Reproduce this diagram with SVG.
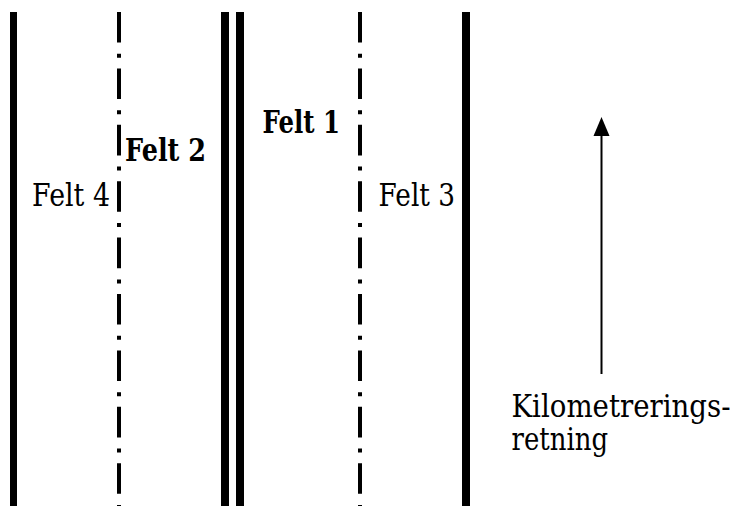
<svg xmlns="http://www.w3.org/2000/svg" width="737" height="506" viewBox="0 0 737 506">
<style>
.edge{fill:#000}
.dd{stroke:#000;stroke-width:4;stroke-dasharray:30.6 11.2 4 10.6;fill:none}
text{font-family:'DejaVu Serif','Liberation Serif',serif;font-size:31px;fill:#000}
.b{font-weight:bold}
</style>
<rect width="737" height="506" fill="#fff"/>
<g id="lines">
<rect id="edge-left" class="edge" x="10" y="12" width="7" height="494"/>
<line id="lane-div-left" class="dd" x1="119" y1="12" x2="119" y2="506"/>
<rect id="median-a" class="edge" x="221" y="12" width="8" height="494"/>
<rect id="median-b" class="edge" x="236" y="12" width="8" height="494"/>
<line id="lane-div-right" class="dd" x1="360" y1="12" x2="360" y2="506"/>
<rect id="edge-right" class="edge" x="462" y="12" width="8" height="494"/>
</g>
<g id="felt4"><text x="32" y="206" textLength="78" lengthAdjust="spacingAndGlyphs">Felt 4</text></g>
<g id="felt2"><text class="b" x="125" y="161" textLength="81" lengthAdjust="spacingAndGlyphs">Felt 2</text></g>
<g id="felt1"><text class="b" x="262.5" y="132.5" textLength="77.5" lengthAdjust="spacingAndGlyphs">Felt 1</text></g>
<g id="felt3"><text x="378.5" y="206" textLength="76.5" lengthAdjust="spacingAndGlyphs">Felt 3</text></g>
<g id="connectors">
<line x1="601.5" y1="374" x2="601.5" y2="136" stroke="#000" stroke-width="2"/>
<path d="M601.5 117 L609.5 136 L593.5 136 Z" fill="#000"/>
</g>
<g id="direction-label">
<text x="511.5" y="417" textLength="219" lengthAdjust="spacingAndGlyphs">Kilometrerings-</text>
<text x="511.5" y="450" textLength="96.5" lengthAdjust="spacingAndGlyphs">retning</text>
</g>
</svg>
